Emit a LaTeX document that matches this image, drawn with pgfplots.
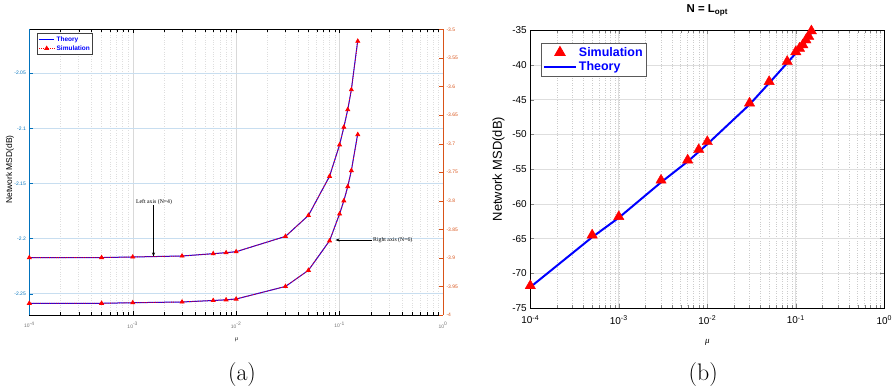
\documentclass[border=0pt]{standalone}
\usepackage{fontspec}
\usepackage{pgfplots}
\pgfplotsset{compat=1.18}
\usetikzlibrary{arrows.meta}
\newfontfamily\arial{Liberation Sans}
\newfontfamily\tnr{Liberation Serif}
\definecolor{mblue}{RGB}{0,114,189}
\definecolor{morange}{RGB}{217,83,25}
\definecolor{lgrid}{RGB}{200,222,240}
\begin{document}
\begin{tikzpicture}
\path[use as bounding box] (0,0) rectangle (894bp,389bp);
% ---------------- left panel, left axis (N=4)
\begin{axis}[
  at={(29.3bp,74bp)}, anchor=south west, scale only axis,
  width=413.7bp, height=285.5bp,
  xmode=log, xmin=1e-4, xmax=1,
  ymin=-2.2693, ymax=-2.0104,
  axis x line*=box, axis y line*=left,
  x axis line style={-,draw=black,line width=0.8bp},
  y axis line style={-,draw=mblue,line width=0.8bp},
  xtick pos=both, ytick pos=left,
  tick align=inside, major tick length=4bp, minor tick length=2.5bp,
  xtick={1e-4,1e-3,1e-2,1e-1,1},
  xticklabels={10\textsuperscript{-4},10\textsuperscript{-3},10\textsuperscript{-2},10\textsuperscript{-1},10\textsuperscript{0}},
  ytick={-2.25,-2.2,-2.15,-2.1,-2.05},
  /pgf/number format/assume math mode=true,
  xticklabel style={font=\arial\fontsize{5}{6}\selectfont, text=black!55, yshift=-4bp},
  yticklabel style={font=\arial\fontsize{5}{6}\selectfont, text=mblue},
  ytick style={draw=mblue},
  xtick style={draw=black},
  xmajorgrids, xminorgrids, ymajorgrids,
  x grid style={draw=black!15},
  minor x grid style={draw=black!13, dotted},
  y grid style={draw=lgrid, line width=0.6bp},
  xlabel={{\tnr\itshape μ}},
  xlabel style={at={(axis description cs:0.501,-0.085)}, anchor=center, font=\fontsize{6}{7}\selectfont},
  ylabel={Network MSD(dB)},
  ylabel style={at={(axis description cs:-0.047,0.51)}, anchor=center, font=\arial\fontsize{8.5}{10}\selectfont},
  legend style={at={(0.0193,0.9867)}, anchor=north west, draw=black!75, line width=0.8bp,
     font=\arial\bfseries\fontsize{6.5}{7.5}\selectfont, text=blue, inner sep=1bp, row sep=-1.5bp},
  legend cell align=left,
  legend image code/.code={\draw[mark repeat=2,mark phase=2,#1] plot coordinates {(0bp,0bp) (7.5bp,0bp) (15bp,0bp)};},
]
\addplot[blue, line width=1bp] coordinates {
 (1e-4,-2.2173) (5e-4,-2.2172) (1e-3,-2.2167) (3e-3,-2.2158) (6e-3,-2.2137) (8e-3,-2.2128)
 (1e-2,-2.2119) (3e-2,-2.1980) (5e-2,-2.1790) (8e-2,-2.1435) (0.10,-2.1150) (0.11,-2.0990)
 (0.12,-2.0830) (0.13,-2.0650) (0.15,-2.0200)};
\addlegendentry{Theory}
\addplot[red, densely dotted, line width=0.8bp, mark=triangle*, mark size=2.2, mark options={solid}] coordinates {
 (1e-4,-2.2173) (5e-4,-2.2172) (1e-3,-2.2167) (3e-3,-2.2158) (6e-3,-2.2137) (8e-3,-2.2128)
 (1e-2,-2.2119) (3e-2,-2.1980) (5e-2,-2.1790) (8e-2,-2.1435) (0.10,-2.1150) (0.11,-2.0990)
 (0.12,-2.0830) (0.13,-2.0650) (0.15,-2.0210)};
\addlegendentry{Simulation}
\end{axis}
% ---------------- left panel, right axis (N=6)
\begin{axis}[
  at={(29.3bp,74bp)}, anchor=south west, scale only axis,
  width=413.7bp, height=285.5bp,
  xmode=log, xmin=1e-4, xmax=1,
  ymin=-4, ymax=-3.5,
  axis x line=none, axis y line*=right,
  y axis line style={-,draw=morange,line width=0.8bp},
  ytick pos=right, yticklabel pos=right,
  tick align=inside, major tick length=4bp,
  ytick={-4,-3.95,-3.9,-3.85,-3.8,-3.75,-3.7,-3.65,-3.6,-3.55,-3.5},
  /pgf/number format/assume math mode=true,
  yticklabel style={font=\arial\fontsize{5}{6}\selectfont, text=morange},
  ytick style={draw=morange},
]
\addplot[blue, line width=1bp] coordinates {
 (1e-4,-3.9795) (5e-4,-3.9795) (1e-3,-3.9785) (3e-3,-3.9772) (6e-3,-3.9746) (8e-3,-3.9734)
 (1e-2,-3.9720) (3e-2,-3.9500) (5e-2,-3.9217) (8e-2,-3.8700) (0.10,-3.8230) (0.11,-3.8000)
 (0.12,-3.7750) (0.13,-3.7470) (0.15,-3.6820)};
\addplot[red, densely dotted, line width=0.8bp, mark=triangle*, mark size=2.2, mark options={solid}] coordinates {
 (1e-4,-3.9795) (5e-4,-3.9795) (1e-3,-3.9785) (3e-3,-3.9772) (6e-3,-3.9746) (8e-3,-3.9734)
 (1e-2,-3.9720) (3e-2,-3.9500) (5e-2,-3.9217) (8e-2,-3.8700) (0.10,-3.8230) (0.11,-3.8000)
 (0.12,-3.7750) (0.13,-3.7470) (0.15,-3.6840)};
\end{axis}
% annotations
\draw[-{Stealth[length=4bp,width=3bp]}, line width=0.6bp] (153.5bp,183.5bp) -- (153.5bp,132.5bp);
\node[font=\tnr\fontsize{5.8}{7}\selectfont, anchor=base, inner sep=0pt] at (154bp,185.5bp) {Left axis (N=4)};
\draw[-{Stealth[length=4bp,width=3bp]}, line width=0.6bp] (371.5bp,149bp) -- (335.5bp,149bp);
\node[font=\tnr\fontsize{5.8}{7}\selectfont, anchor=west, inner sep=0pt] at (373bp,149bp) {Right axis (N=6)};
% ---------------- right panel
\begin{axis}[
  at={(530.3bp,81bp)}, anchor=south west, scale only axis,
  width=354bp, height=277.7bp,
  xmode=log, xmin=1e-4, xmax=1,
  ymin=-75, ymax=-35,
  axis line style={line width=0.8bp},
  xtick pos=both, ytick pos=both,
  tick align=inside, major tick length=4bp, minor tick length=2.5bp,
  xtick={1e-4,1e-3,1e-2,1e-1,1},
  xticklabels={10\textsuperscript{-4},10\textsuperscript{-3},10\textsuperscript{-2},10\textsuperscript{-1},10\textsuperscript{0}},
  ytick={-75,-70,-65,-60,-55,-50,-45,-40,-35},
  /pgf/number format/assume math mode=true,
  ticklabel style={font=\arial\fontsize{10}{12}\selectfont},
  xticklabel style={yshift=-4bp},
  xmajorgrids, xminorgrids, ymajorgrids,
  major grid style={draw=black!13, line width=0.7bp},
  minor grid style={draw=black!20, dotted},
  xlabel={{\tnr\itshape μ}},
  xlabel style={at={(axis description cs:0.5,-0.1235)}, anchor=center, font=\fontsize{9}{10}\selectfont},
  ylabel={Network MSD(dB)},
  ylabel style={at={(axis description cs:-0.09,0.5)}, anchor=center, font=\arial\fontsize{13}{15}\selectfont},
  title={\textbf{N = L\textsubscript{opt}}},
  title style={at={(axis description cs:0.5,1.043)}, anchor=base, font=\arial\fontsize{11.5}{13}\selectfont},
  legend style={at={(0.029,0.955)}, anchor=north west, draw=black!65, line width=0.8bp,
     font=\arial\bfseries\fontsize{12.5}{14}\selectfont, text=blue, inner sep=2bp, row sep=0bp},
  legend cell align=left,
  legend image code/.code={\draw[mark repeat=2,mark phase=2,#1] plot coordinates {(0bp,0bp) (16bp,0bp) (32bp,0bp)};},
]
\addplot[only marks, red, mark=triangle*, mark size=6] coordinates {
 (1e-4,-71.8) (5e-4,-64.5) (1e-3,-61.85) (3e-3,-56.6) (6e-3,-53.7) (8e-3,-52.2) (1e-2,-51.05)
 (3e-2,-45.5) (5e-2,-42.4) (8e-2,-39.5) (0.10,-38.1) (0.11,-37.6) (0.12,-37.1) (0.13,-36.4)
 (0.14,-35.9) (0.15,-35.1)};
\addlegendentry{Simulation}
\addplot[blue, line width=2bp] coordinates {
 (1e-4,-72.0) (5e-4,-64.8) (1e-3,-62.0) (3e-3,-56.9) (6e-3,-53.9) (8e-3,-52.5) (1e-2,-51.4)
 (3e-2,-45.7) (5e-2,-42.6) (8e-2,-39.7) (0.10,-38.3) (0.11,-37.7) (0.12,-37.2) (0.13,-36.6)
 (0.14,-36.0) (0.15,-35.3)};
\addlegendentry{Theory}
\end{axis}
\node[anchor=base, font=\fontsize{24}{28}\selectfont, inner sep=0pt] at (242bp,9bp) {(a)};
\node[anchor=base, font=\fontsize{24}{28}\selectfont, inner sep=0pt] at (703.3bp,9bp) {(b)};
\end{tikzpicture}
\end{document}
